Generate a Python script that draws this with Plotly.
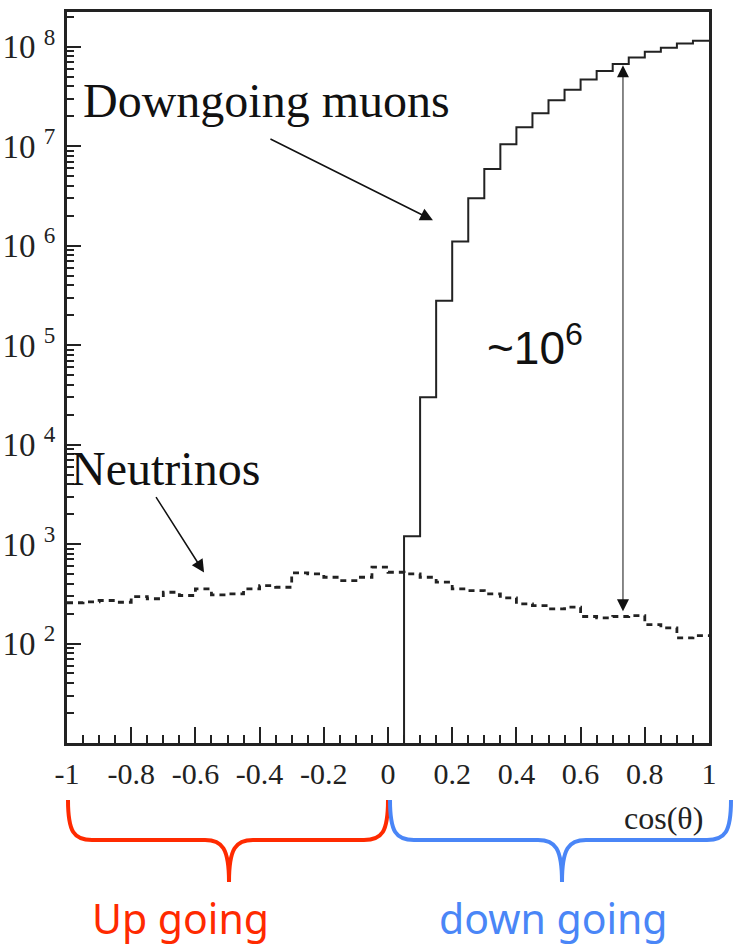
import numpy as np
import plotly.graph_objects as go

# ---------------- data ----------------
bin_width = 0.05
muon_start = 0.05
# downgoing muons, bins 0.05..1.00
muon_values = [1.2e3, 3.0e4, 2.8e5, 1.1e6, 3.0e6, 5.9e6, 1.05e7, 1.55e7, 2.15e7,
               2.9e7, 3.7e7, 4.7e7, 5.7e7, 6.7e7, 7.8e7, 8.9e7, 9.8e7, 1.08e8, 1.15e8]
# neutrinos, bins -1.00..1.00
neutrino_values = [257, 263, 271, 260, 297, 282, 328, 304, 355, 309,
                   316, 355, 383, 368, 514, 502, 464, 430, 464, 586,
                   521, 502, 464, 414, 355, 341, 316, 288, 251, 241,
                   223, 232, 187, 181, 187, 191, 155, 144, 114, 120]
hist_floor = 1.0

x_tick_vals = [-1, -0.8, -0.6, -0.4, -0.2, 0, 0.2, 0.4, 0.6, 0.8, 1]
x_tick_text = ["-1", "-0.8", "-0.6", "-0.4", "-0.2", "0", "0.2", "0.4", "0.6", "0.8", "1"]
y_exponents = [2, 3, 4, 5, 6, 7, 8]
y_tick_vals = [10.0 ** e for e in y_exponents]
y_tick_text = ["10 <sup>%d</sup>" % e for e in y_exponents]
y_minor_vals = [m * 10.0 ** e for e in range(1, 9) for m in range(2, 10)]

# ---------------- traces ----------------
mu_edges = [round(muon_start + bin_width * i, 4) for i in range(len(muon_values) + 1)]
mu_x = [mu_edges[0]] + mu_edges
mu_y = [hist_floor] + muon_values + [muon_values[-1]]

nu_edges = [round(-1 + bin_width * i, 4) for i in range(len(neutrino_values) + 1)]
nu_y = neutrino_values + [neutrino_values[-1]]

fig = go.Figure()
fig.add_trace(go.Scatter(x=nu_edges, y=nu_y, mode="lines", line_shape="hv",
                         line=dict(color="#222", width=2.8, dash="6px,5px"),
                         hoverinfo="skip"))
fig.add_trace(go.Scatter(x=mu_x, y=mu_y, mode="lines", line_shape="hv",
                         line=dict(color="#222", width=2),
                         hoverinfo="skip"))

# ---------------- layout ----------------
L, R, T, B = 67, 25, 12, 205
W, H = 734, 948
pw, ph = W - L - R, H - T - B

def px(xp):
    return (xp - L) / pw

def py(yp):
    return (H - B - yp) / ph

serif = "Liberation Serif"
axis_col = "#222"

fig.update_layout(
    width=W, height=H,
    margin=dict(l=L, r=R, t=T, b=B, autoexpand=False),
    plot_bgcolor="white", paper_bgcolor="white",
    showlegend=False,
    xaxis=dict(range=[-1, 1], tickmode="array", tickvals=x_tick_vals, ticktext=x_tick_text,
               ticks="inside", ticklen=16, tickwidth=2, tickcolor=axis_col,
               minor=dict(tickmode="linear", tick0=-1, dtick=0.05, ticks="inside",
                          ticklen=8, tickwidth=2, tickcolor=axis_col, showgrid=False),
               showline=True, linewidth=3, linecolor=axis_col, mirror=True,
               showgrid=False, zeroline=False, ticklabelstandoff=2, automargin=False,
               tickfont=dict(family=serif, size=30, color=axis_col)),
    yaxis=dict(type="log", range=[1, 8.35], tickmode="array", tickvals=y_tick_vals,
               ticktext=y_tick_text, ticks="inside", ticklen=14, tickwidth=2,
               tickcolor=axis_col,
               minor=dict(tickmode="array", tickvals=y_minor_vals, ticks="inside",
                          ticklen=7, tickwidth=2, tickcolor=axis_col, showgrid=False),
               showline=True, linewidth=3, linecolor=axis_col, mirror=True,
               showgrid=False, zeroline=False, ticklabelstandoff=2, automargin=False,
               tickfont=dict(family=serif, size=33, color=axis_col)),
)

ann = []
ann.append(dict(x=-0.38, y=7.46, xref="x", yref="y", text="Downgoing muons", showarrow=False,
                font=dict(family=serif, size=48, color="#111")))
ann.append(dict(x=0.140, y=6.256, xref="x", yref="y", text="", showarrow=True,
                ax=-164, ay=-82, arrowhead=2, arrowsize=1.7, arrowwidth=1.5, arrowcolor="#111"))
ann.append(dict(x=-0.692, y=3.76, xref="x", yref="y", text="Neutrinos", showarrow=False,
                font=dict(family=serif, size=48, color="#111")))
ann.append(dict(x=-0.573, y=2.714, xref="x", yref="y", text="", showarrow=True,
                ax=-49, ay=-77, arrowhead=2, arrowsize=1.7, arrowwidth=1.5, arrowcolor="#111"))
ann.append(dict(x=0.732, y=7.815, xref="x", yref="y", ax=0.732, ay=2.31, axref="x", ayref="y",
                text="", showarrow=True, arrowside="end+start", arrowhead=2, startarrowhead=2,
                arrowsize=2.4, startarrowsize=2.4, arrowwidth=1, arrowcolor="#111"))
ann.append(dict(x=0.458, y=5.0, xref="x", yref="y", text="~10<sup>6</sup>", showarrow=False,
                font=dict(family="Liberation Sans", size=46, color="#111")))
ann.append(dict(x=px(705), y=py(818), xref="paper", yref="paper", text="cos(θ)",
                xanchor="right", yanchor="middle", showarrow=False,
                font=dict(family=serif, size=32, color="#222")))
ann.append(dict(x=px(180), y=py(918), xref="paper", yref="paper", text="Up going",
                xanchor="center", yanchor="middle",
                showarrow=False, font=dict(family="Noto Sans", size=41, color="#FF2A00")))
ann.append(dict(x=px(553), y=py(918), xref="paper", yref="paper", text="down going",
                xanchor="center", yanchor="middle",
                showarrow=False, font=dict(family="Noto Sans", size=41, color="#4A86F7")))
fig.update_layout(annotations=ann)

def brace(xl, xr, xm, ytop, yline, ytip, r):
    pts = [
        f"M {px(xl)},{py(ytop)}",
        f"C {px(xl)},{py(yline - 8)} {px(xl + 6)},{py(yline)} {px(xl + r)},{py(yline)}",
        f"L {px(xm - r)},{py(yline)}",
        f"C {px(xm - 7)},{py(yline)} {px(xm)},{py(yline + 8)} {px(xm)},{py(ytip)}",
        f"C {px(xm)},{py(yline + 8)} {px(xm + 7)},{py(yline)} {px(xm + r)},{py(yline)}",
        f"L {px(xr - r)},{py(yline)}",
        f"C {px(xr - 6)},{py(yline)} {px(xr)},{py(yline - 8)} {px(xr)},{py(ytop)}",
    ]
    return " ".join(pts)

fig.add_shape(type="path", xref="paper", yref="paper",
              path=brace(68, 388, 229, 800, 840, 882, 24),
              line=dict(color="#FF2A00", width=4))
fig.add_shape(type="path", xref="paper", yref="paper",
              path=brace(390, 731, 562, 800, 840, 882, 24),
              line=dict(color="#4A86F7", width=4))

fig.write_html("out.html", config={"displayModeBar": False},
               post_script="document.body.style.margin='0';document.body.style.overflow='hidden';")
